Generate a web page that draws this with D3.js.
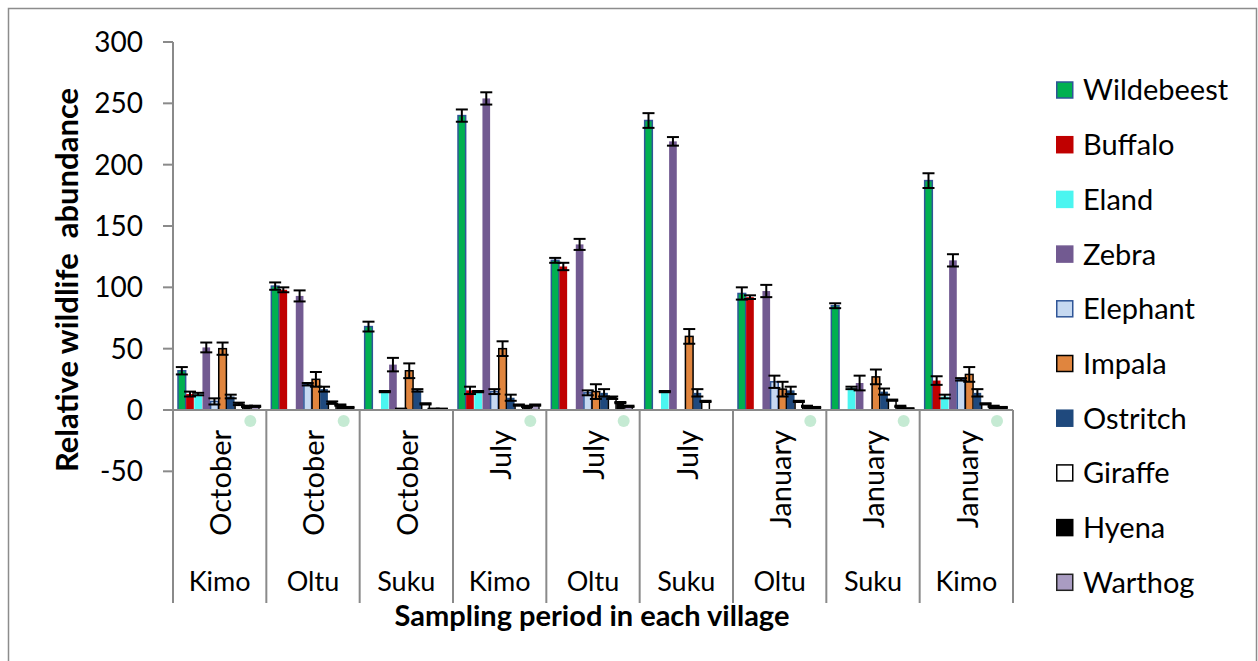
<!DOCTYPE html>
<html>
<head>
<meta charset="utf-8">
<script src="https://cdn.jsdelivr.net/npm/d3@7"></script>
<style>
  body { margin: 0; background: #fff; }
  text { font-family: Lato, "Open Sans", sans-serif; fill: #000; }
</style>
</head>
<body>
<div id="chart"></div>
<script>
// sampling period (month) and village per group
const months = ["October", "October", "October", "July", "July", "July", "January", "January", "January"];
const villages = ["Kimo", "Oltu", "Suku", "Kimo", "Oltu", "Suku", "Oltu", "Suku", "Kimo"];
const species = ["Wildebeest", "Buffalo", "Eland", "Zebra", "Elephant", "Impala", "Ostritch", "Giraffe", "Hyena", "Warthog"];
const yTicks = [-50, 0, 50, 100, 150, 200, 250, 300];

// values per species, one per group
const wildebeest = [32, 101, 68, 240, 122, 236, 95, 85, 187];
const buffalo    = [13, 98, 0, 16, 117, 0, 92, 0, 24];
const eland      = [13, 0, 15, 15, 0, 15, 0, 18, 11];
const zebra      = [51, 93, 37, 254, 135, 219, 97, 22, 122];
const elephant   = [7, 21, 1, 15, 14, 0, 23, 0, 25];
const impala     = [50, 25, 32, 50, 15, 60, 17, 27, 29];
const ostritch   = [11, 17, 16, 10, 14, 14, 16, 15, 14];
const giraffe    = [5, 6, 5, 4, 10, 7, 7, 8, 5];
const hyena      = [3, 4, 1, 3, 6, 0, 3, 3, 3];
const warthog    = [3, 2, 1, 4, 3, 0, 2, 1, 2];

// standard errors
const wildebeestErr = [3, 3, 4, 5, 2, 6, 5, 2, 6];
const buffaloErr    = [2, 2, 0, 3, 3, 0, 1.5, 0, 3.5];
const elandErr      = [1, 0, 0.5, 0.5, 0, 0.5, 0, 1, 1.5];
const zebraErr      = [4, 4.5, 5.5, 5, 4.5, 3.5, 5, 6, 5];
const elephantErr   = [2.5, 1, 0, 2, 2, 0, 5, 0, 1];
const impalaErr     = [5, 6, 6, 6, 6, 6, 6, 6, 6];
const ostritchErr   = [1.5, 2, 1, 2.5, 3, 3, 3, 2.5, 3];
const giraffeErr    = [1, 1, 0.5, 0.5, 1, 0.5, 0.5, 0.5, 0.5];
const hyenaErr      = [0.5, 0.5, 0, 0.5, 0.5, 0, 0.5, 0.5, 0.5];
const warthogErr    = [0.5, 0.5, 0, 0.5, 0.5, 0, 0.5, 0.5, 0.5];

const values = [wildebeest, buffalo, eland, zebra, elephant, impala, ostritch, giraffe, hyena, warthog];
const errors = [wildebeestErr, buffaloErr, elandErr, zebraErr, elephantErr, impalaErr, ostritchErr, giraffeErr, hyenaErr, warthogErr];

const fills   = ["#00B050", "#C00000", "#4BF5F0", "#725A91", "#C6D9F1", "#E0853E", "#1F497D", "#FFFFFF", "#000000", "#A99CC2"];
const strokes = ["#2F5597", "none", "none", "none", "#2F5597", "#000", "none", "#000", "none", "#222"];

// groups that show the faint green dot under the axis
const dotGroups = [0, 1, 3, 4, 6, 7, 8];

const W = 1258, H = 661;
const svg = d3.select("#chart").append("svg")
    .attr("width", W)
    .attr("height", H);

// chart area border
svg.append("rect")
    .attr("x", 8.5).attr("y", 8.5)
    .attr("width", 1248).attr("height", 670)
    .attr("fill", "none")
    .attr("stroke", "#8c8c8c")
    .attr("stroke-width", 1.5);

const plotLeft = 173, plotRight = 1013;
const groups = d3.range(months.length);

const x = d3.scaleBand()
    .domain(groups)
    .range([plotLeft, plotRight]);

const xs = d3.scaleBand()
    .domain(species)
    .range([5, 86])
    .paddingInner(0.06);

const y = d3.scaleLinear()
    .domain([0, 300])
    .range([410, 42]);

const axisColor = "#8a8a8a";

// y axis
svg.append("line")
    .attr("x1", plotLeft).attr("x2", plotLeft)
    .attr("y1", y(300)).attr("y2", 603)
    .attr("stroke", axisColor).attr("stroke-width", 2);

svg.selectAll(".ytick")
    .data(yTicks)
    .enter().append("line")
    .attr("x1", plotLeft - 10).attr("x2", plotLeft)
    .attr("y1", d => y(d)).attr("y2", d => y(d))
    .attr("stroke", axisColor).attr("stroke-width", 2);

svg.selectAll(".ylab")
    .data(yTicks)
    .enter().append("text")
    .attr("x", 143)
    .attr("y", d => y(d))
    .attr("dy", "0.36em")
    .attr("text-anchor", "end")
    .style("font-size", "28px")
    .text(d => d);

svg.append("text")
    .attr("transform", "translate(" + 78 + "," + 280 + ") rotate(-90)")
    .attr("text-anchor", "middle")
    .style("font-size", "31px")
    .style("font-weight", "bold")
    .style("white-space", "pre")
    .attr("xml:space", "preserve")
    .text("Relative wildlife  abundance");

// faint green dots
svg.selectAll(".dot")
    .data(dotGroups)
    .enter().append("circle")
    .attr("cx", d => x(d) + x.bandwidth() - 16)
    .attr("cy", 421)
    .attr("r", 6)
    .attr("fill", "#9fdcb6")
    .attr("opacity", 0.6);

// bars
const bars = [];
values.forEach((arr, s) => {
    arr.forEach((v, g) => {
        bars.push({s: s, g: g, v: v, e: errors[s][g]});
    });
});

svg.selectAll(".bar")
    .data(bars)
    .enter().append("rect")
    .attr("x", d => x(d.g) + xs(species[d.s]))
    .attr("y", d => y(d.v))
    .attr("width", xs.bandwidth())
    .attr("height", d => y(0) - y(d.v))
    .attr("fill", d => fills[d.s])
    .attr("stroke", d => strokes[d.s])
    .attr("stroke-width", 1.5);

// error bars
const errBars = bars.filter(d => d.v > 0);
const errG = svg.append("g").attr("stroke", "#000").attr("stroke-width", 2);
errBars.forEach(d => {
    const cx = x(d.g) + xs(species[d.s]) + xs.bandwidth() / 2;
    const top = y(d.v + d.e), bot = y(d.v - d.e);
    errG.append("line").attr("x1", cx).attr("x2", cx).attr("y1", top).attr("y2", bot);
    errG.append("line").attr("x1", cx - 6).attr("x2", cx + 6).attr("y1", top).attr("y2", top);
    errG.append("line").attr("x1", cx - 6).attr("x2", cx + 6).attr("y1", bot).attr("y2", bot);
});

// x axis line and category separators
svg.append("line")
    .attr("x1", plotLeft - 10).attr("x2", plotRight)
    .attr("y1", y(0)).attr("y2", y(0))
    .attr("stroke", axisColor).attr("stroke-width", 2);

svg.selectAll(".sep")
    .data(groups.concat([groups.length]))
    .enter().append("line")
    .attr("x1", d => plotLeft + d * x.step())
    .attr("x2", d => plotLeft + d * x.step())
    .attr("y1", y(0)).attr("y2", 603)
    .attr("stroke", axisColor).attr("stroke-width", 2);

// month labels (rotated)
svg.selectAll(".month")
    .data(groups)
    .enter().append("text")
    .attr("transform", d => "translate(" + (x(d) + x.bandwidth() / 2 + 1) + "," + 430 + ") rotate(-90)")
    .attr("text-anchor", "end")
    .attr("dy", "0.36em")
    .style("font-size", "29px")
    .text(d => months[d]);

// village labels
svg.selectAll(".village")
    .data(groups)
    .enter().append("text")
    .attr("x", d => x(d) + x.bandwidth() / 2)
    .attr("y", 591)
    .attr("text-anchor", "middle")
    .style("font-size", "27px")
    .text(d => villages[d]);

svg.append("text")
    .attr("x", 592)
    .attr("y", 626)
    .attr("text-anchor", "middle")
    .style("font-size", "29px")
    .style("font-weight", "bold")
    .text("Sampling period in each village");

// legend
const legend = svg.append("g").attr("transform", "translate(1056,90)");
const rows = legend.selectAll(".row")
    .data(species)
    .enter().append("g")
    .attr("transform", (d, i) => "translate(0," + (i * 54.7) + ")");

rows.append("rect")
    .attr("x", 0.75).attr("y", -8)
    .attr("width", 16).attr("height", 16)
    .attr("fill", (d, i) => fills[i])
    .attr("stroke", (d, i) => strokes[i] === "none" ? fills[i] : strokes[i])
    .attr("stroke-width", 1.5);

rows.append("text")
    .attr("x", 27)
    .attr("y", 0)
    .attr("dy", "0.36em")
    .style("font-size", "29px")
    .text(d => d);
</script>
</body>
</html>
